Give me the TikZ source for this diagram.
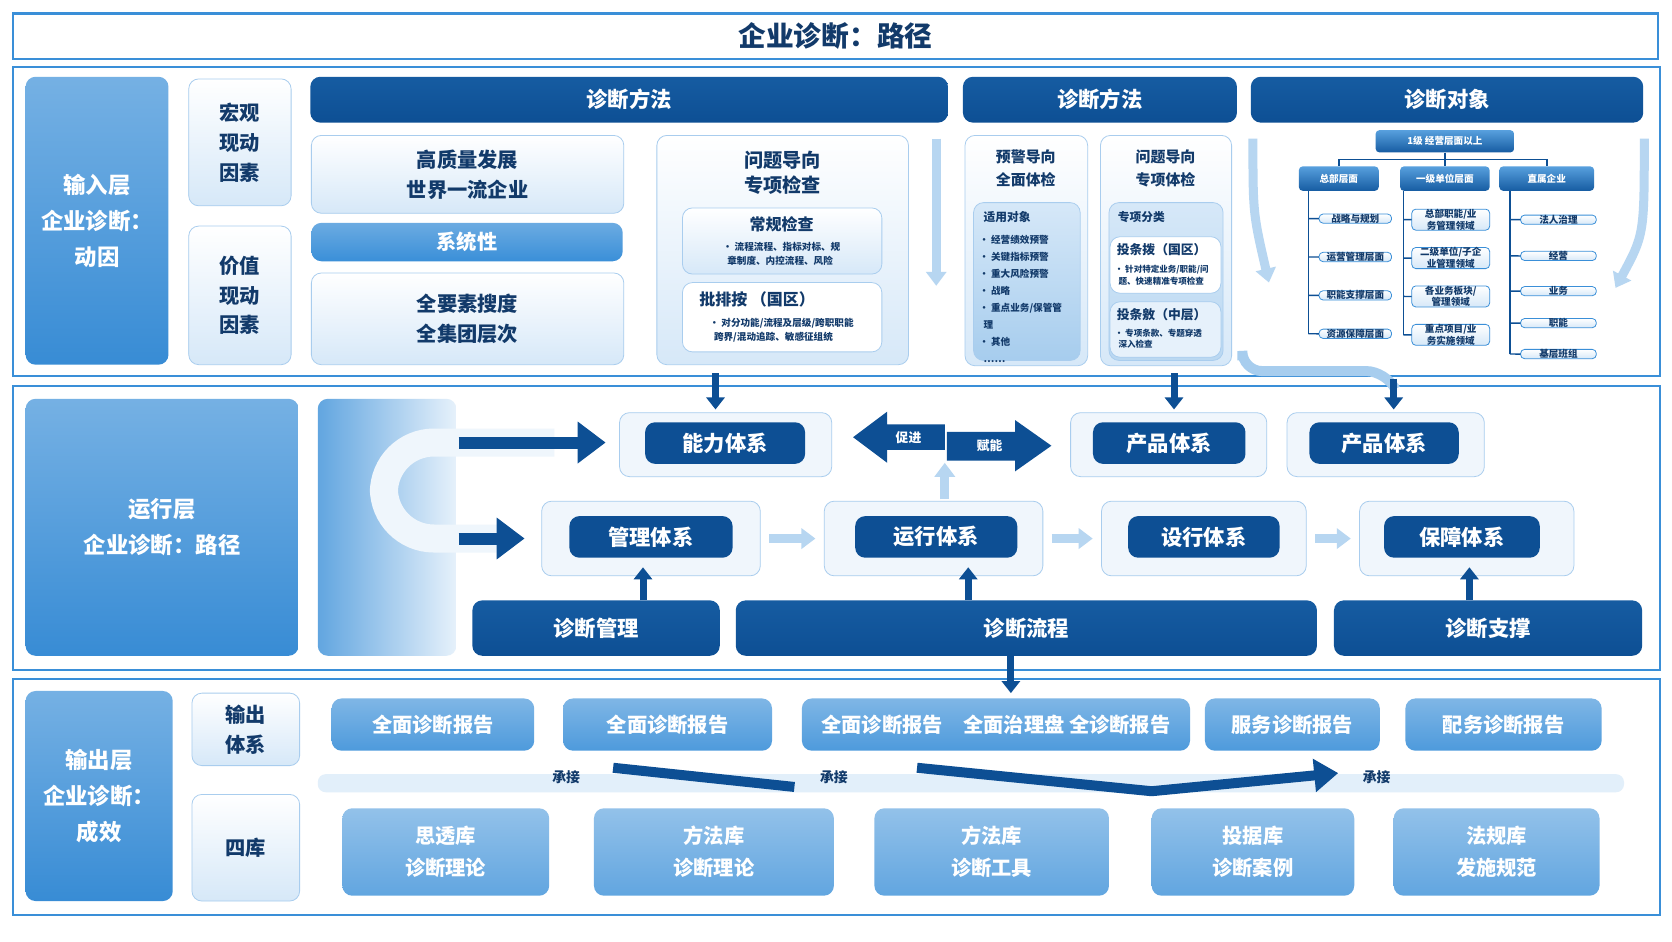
\documentclass[tikz,border=0pt]{standalone}
\usepackage{fontspec}
\setmainfont{Noto Sans CJK SC}
\usetikzlibrary{arrows.meta}
\definecolor{dk}{HTML}{0D4F94}
\definecolor{md}{HTML}{3A8FD8}
\definecolor{lt}{HTML}{D6E8F8}
\definecolor{wh}{HTML}{F0F6FC}
\definecolor{bd}{HTML}{A9CDEE}
\definecolor{tx}{HTML}{123A6A}
\newcommand\bx[7]{\node[#1,minimum width={(#5-#3)*0.5pt},minimum height={(#6-#4)*0.5pt}] (#2) at ({(#3+#5)/2},{(#4+#6)/2}) {#7};}
\tikzset{
 base/.style={rounded corners=5pt,inner sep=0pt,align=center},
 frame/.style={draw=md,line width=1pt,fill=white},
 dark/.style={base,fill=dk,text=white,font=\fontsize{10}{12}\selectfont\bfseries},
 darkg/.style={base,top color=dk!80!md,bottom color=dk,text=white,font=\fontsize{10}{12}\selectfont\bfseries},
 layer/.style={base,top color=md!70,bottom color=md!95!dk,text=white,font=\fontsize{10.5}{17}\selectfont\bfseries},
 pale/.style={base,draw=bd,top color=white,bottom color=lt,text=tx,font=\fontsize{9.5}{14}\selectfont\bfseries},
 mid/.style={base,top color=md!75,bottom color=md,text=white,font=\fontsize{9.5}{12}\selectfont\bfseries},
 inner/.style={base,draw=bd,fill=white,text=tx,font=\fontsize{7}{9}\selectfont\bfseries},
 org/.style={base,rounded corners=2pt,top color=md!85,bottom color=dk!80!md,text=white,font=\fontsize{4.5}{5.5}\selectfont\bfseries},
 orgc/.style={base,rounded corners=2pt,draw=md,top color=white,bottom color=lt,text=tx,font=\fontsize{4.5}{5.5}\selectfont\bfseries},
 rep/.style={base,top color=md!65,bottom color=md!90,text=white,font=\fontsize{9.5}{12}\selectfont\bfseries},
 lib/.style={base,top color=md!55,bottom color=md!80,text=white,font=\fontsize{9.5}{15}\selectfont\bfseries},
 sys/.style={base,draw=bd,fill=wh},
 fat/.style={-{Triangle[width=9pt,length=6pt]},line width=3.5pt,dk},
 lfat/.style={-{Triangle[width=10pt,length=7pt]},line width=4.5pt,lt!80!md},
 sm/.style={font=\fontsize{4.5}{6.5}\selectfont\bfseries,text=tx,align=left,inner sep=0pt}
}
\begin{document}
\begin{tikzpicture}[x=0.5pt,y=-0.5pt,scale=1.06633,every node/.append style={transform shape}]
\useasboundingbox (0,0) rectangle (1568,882.5);
\fill[white] (0,0) rectangle (1568,882.5);
% title
\node[draw=md,line width=1.2pt,fill=white,minimum width={1543*0.5pt},minimum height={43*0.5pt},inner sep=0pt,text=tx,font=\fontsize{13}{15}\selectfont\bfseries] (title) at (783.5,34) {企业诊断：路径};
% frames
\draw[frame] (12,63) rectangle (1557,353);
\draw[frame] (12,362) rectangle (1557,628);
\draw[frame] (12,637) rectangle (1557,858);
% ===== input layer
\bx{layer}{in}{24}{72}{158}{342}{输入层\\企业诊断：\\动因}
\bx{pale}{hg}{177}{74}{273}{193}{宏观\\现动\\因素}
\bx{pale}{jz}{177}{212}{273}{342}{价值\\现动\\因素}
\bx{darkg}{h1}{291}{72}{889}{115}{诊断方法}
\bx{pale}{gz}{292}{127}{585}{200}{高质量发展\\世界一流企业}
\bx{mid}{xt}{292}{209}{584}{245}{系统性}
\bx{pale}{qy}{292}{256}{585}{342}{全要素搜度\\全集团层次}
\bx{pale}{wt}{616}{127}{852}{342}{}
\node[font=\fontsize{9}{12}\selectfont\bfseries,text=tx,align=center] at (734,162) {问题导向\\专项检查};
\bx{pale}{cg}{640}{195}{827}{257}{}
\node[font=\fontsize{7.5}{9}\selectfont\bfseries,text=tx] at (733,210) {常规检查};
\node[sm] at (733,238) {• 流程流程、指标对标、规\\\ \ 章制度、内控流程、风险};
\bx{inner}{pp}{640}{265}{827}{330}{}
\node[font=\fontsize{7.5}{9}\selectfont\bfseries,text=tx] at (710,281) {批排按 （国区）};
\node[sm] at (733,310) {• 对分功能/流程及层级/跨职职能\\\ \ 跨界/混动追踪、敏感征组统};
\draw[lfat] (878,130) -- (878,268);
\bx{darkg}{h2}{903}{72}{1160}{115}{诊断方法}
\bx{pale}{yj}{905}{127}{1020}{343}{}
\node[font=\fontsize{7}{11}\selectfont\bfseries,text=tx,align=center] at (962,158) {预警导向\\全面体检};
\bx{base,draw=bd,top color=lt,bottom color=md!45}{yji}{913}{190}{1013}{338}{}
\node[sm,anchor=north west,font=\fontsize{5.5}{8}\selectfont\bfseries] at (922,198) {适用对象};
\node[sm,anchor=north west,font=\fontsize{4.5}{8}\selectfont\bfseries] at (918,220) {• 经营绩效预警\\• 关键指标预警\\• 重大风险预警\\• 战略\\• 重点业务/保管管\\\ \ 理\\• 其他\\\ \ ……};
\bx{pale}{wt2}{1032}{127}{1155}{343}{}
\node[font=\fontsize{7}{11}\selectfont\bfseries,text=tx,align=center] at (1093,158) {问题导向\\专项体检};
\bx{base,draw=bd,top color=lt,bottom color=md!35}{zx}{1040}{190}{1147}{338}{}
\node[sm,anchor=north west,font=\fontsize{5.5}{8}\selectfont\bfseries] at (1048,198) {专项分类};
\bx{inner}{zx1}{1041}{222}{1145}{275}{}
\node[sm,anchor=north west,font=\fontsize{6}{8}\selectfont\bfseries] at (1047,228) {投条拨（国区）};
\node[sm,anchor=north west,font=\fontsize{4}{5.5}\selectfont\bfseries] at (1045,248) {• 针对特定业务/职能/问\\\ \ 题、快速精准专项检查};
\bx{inner,fill=lt!60}{zx2}{1041}{283}{1145}{335}{}
\node[sm,anchor=north west,font=\fontsize{6}{8}\selectfont\bfseries] at (1047,289) {投条敫（中层）};
\node[sm,anchor=north west,font=\fontsize{4}{5.5}\selectfont\bfseries] at (1045,308) {• 专项条款、专题穿透\\\ \ 深入检查};
\bx{darkg}{h3}{1173}{72}{1541}{115}{诊断对象}
% org chart
\bx{org}{o0}{1290}{122}{1420}{143}{1级 经营层面以上}
\bx{org}{o1}{1218}{156}{1293}{179}{总部层面}
\bx{org}{o2}{1313}{156}{1397}{179}{一级单位层面}
\bx{org}{o3}{1406}{156}{1495}{179}{直属企业}
\draw[dk,line width=0.7pt] (o0.south) -- ++(0,6) -| (o1.north);
\draw[dk,line width=0.7pt] (o0.south) -- ++(0,6) -| (o3.north);
\draw[dk,line width=0.7pt] (o0.south) -- (o2.north);
\foreach \t [count=\i] in {战略与规划,运营管理层面,职能支撑层面,资源保障层面}{
 \pgfmathsetmacro\yy{205+(\i-1)*36}
 \bx{orgc}{a\i}{1237}{\yy-12}{1305}{\yy+12}{\t}
 \draw[dk,line width=0.7pt] (1227,\yy) -- (a\i.west);}
\draw[dk,line width=0.7pt] (1227,179) -- (1227,313);
\foreach \t [count=\i] in {总部职能/业\\务管理领域,二级单位/子企\\业管理领域,各业务板块/\\管理领域,重点项目/业\\务实施领域}{
 \pgfmathsetmacro\yy{206+(\i-1)*36}
 \bx{orgc}{b\i}{1324}{\yy-13}{1397}{\yy+13}{\t}
 \draw[dk,line width=0.7pt] (1316,\yy) -- (b\i.west);}
\draw[dk,line width=0.7pt] (1316,179) -- (1316,314);
\foreach \t/\yy [count=\i] in {法人治理/206,经营/240,业务/273,职能/303,基层班组/332}{
 \bx{orgc}{c\i}{1426}{\yy-11}{1497}{\yy+11}{\t}
 \draw[dk,line width=0.7pt] (1416,\yy) -- (c\i.west);}
\draw[dk,line width=0.7pt] (1416,179) -- (1416,332);
\draw[lfat] (1175,130) .. controls (1175,200) .. (1190,265);
\draw[lfat] (1542,130) .. controls (1542,220) .. (1515,270);
% ===== run layer
\bx{layer}{run}{24}{374}{280}{615}{运行层\\企业诊断：路径}
\bx{base,left color=md!80,right color=lt!60}{rb}{298}{374}{428}{615}{}
\draw[line width=14pt,white!60!lt,rounded corners=25pt] (520,415) -- (360,415) -- (360,505) -- (470,505);
\draw[fat,line width=6pt,-{Triangle[width=20pt,length=14pt]}] (430,415) -- (568,415);
\draw[fat,line width=6pt,-{Triangle[width=20pt,length=14pt]}] (430,505) -- (492,505);
\newcommand\sysbox[9]{\bx{sys}{#1o}{#2}{#3}{#4}{#5}{}\bx{dark}{#1}{#6}{#7}{#8}{#9}}
\sysbox{nl}{581}{387}{780}{447}{605}{396}{755}{435}{能力体系}
\sysbox{cp1}{1004}{387}{1188}{447}{1025}{396}{1168}{435}{产品体系}
\sysbox{cp2}{1207}{387}{1392}{447}{1228}{396}{1368}{435}{产品体系}
\sysbox{gl}{508}{470}{713}{540}{534}{484}{687}{523}{管理体系}
\sysbox{yx}{773}{470}{978}{540}{802}{484}{954}{523}{运行体系}
\sysbox{sx}{1033}{470}{1225}{540}{1058}{484}{1200}{523}{设行体系}
\sysbox{bz}{1275}{470}{1476}{540}{1298}{484}{1444}{523}{保障体系}
\fill[dk] (800,410) -- (832,386) -- (832,398) -- (886,398) -- (886,422) -- (832,422) -- (832,434) -- cycle;
\node[font=\fontsize{6}{7}\selectfont\bfseries,text=white] (cj) at (852,410) {促进};
\fill[dk] (986,418) -- (952,394) -- (952,405) -- (888,405) -- (888,432) -- (952,432) -- (952,442) -- cycle;
\node[font=\fontsize{6}{7}\selectfont\bfseries,text=white] (fn) at (928,418) {赋能};
\draw[lfat] (886,468) -- (886,434);
\foreach \a/\b in {glo/yxo,yxo/sxo,sxo/bzo}\draw[lfat] ([xshift=4pt]\a.east) -- ([xshift=-4pt]\b.west);
\bx{darkg}{zg}{443}{563}{675}{615}{诊断管理}
\bx{darkg}{zl}{690}{563}{1235}{615}{诊断流程}
\bx{darkg}{zc}{1251}{563}{1540}{615}{诊断支撑}
\draw[fat] (603,563) -- (603,532);
\draw[fat] (908,563) -- (908,532);
\draw[fat] (1378,563) -- (1378,532);
\draw[fat] (671,350) -- (671,384);
\draw[fat] (1101,350) -- (1101,384);
\draw[line width=5pt,lt!70!md,rounded corners=10pt] (1165,338) -- (1165,348) -- (1300,348) -- (1307,362);
\draw[fat] (1307,355) -- (1307,384);
\draw[fat] (948,615) -- (948,650);
% ===== output layer
\bx{layer}{out}{24}{648}{162}{845}{输出层\\企业诊断：\\成效}
\bx{pale}{sc}{180}{650}{281}{718}{输出\\体系}
\bx{pale}{sk}{180}{745}{281}{845}{四库}
\bx{rep}{r1}{311}{655}{501}{704}{全面诊断报告}
\bx{rep}{r2}{528}{655}{724}{704}{全面诊断报告}
\bx{rep}{r3}{752}{655}{1116}{704}{全面诊断报告\quad 全面治理盘 全诊断报告}
\bx{rep}{r4}{1130}{655}{1294}{704}{服务诊断报告}
\bx{rep}{r5}{1318}{655}{1502}{704}{配务诊断报告}
\fill[lt!70,rounded corners=4pt] (298,726) rectangle (1523,743);
\draw[dk,line width=5pt] (575,720) -- (745,738);
\draw[dk,line width=5pt,-{Triangle[width=16pt,length=12pt]}] (860,720) -- (1080,742) -- (1255,725);
\foreach \xx in {531,782,1291}\node[font=\fontsize{6.5}{8}\selectfont\bfseries,text=tx] at (\xx,729) {承接};
\bx{lib}{l1}{321}{758}{515}{840}{思透库\\诊断理论}
\bx{lib}{l2}{557}{758}{782}{840}{方法库\\诊断理论}
\bx{lib}{l3}{820}{758}{1040}{840}{方法库\\诊断工具}
\bx{lib}{l4}{1080}{758}{1270}{840}{投据库\\诊断案例}
\bx{lib}{l5}{1307}{758}{1500}{840}{法规库\\发施规范}
\end{tikzpicture}
\end{document}
